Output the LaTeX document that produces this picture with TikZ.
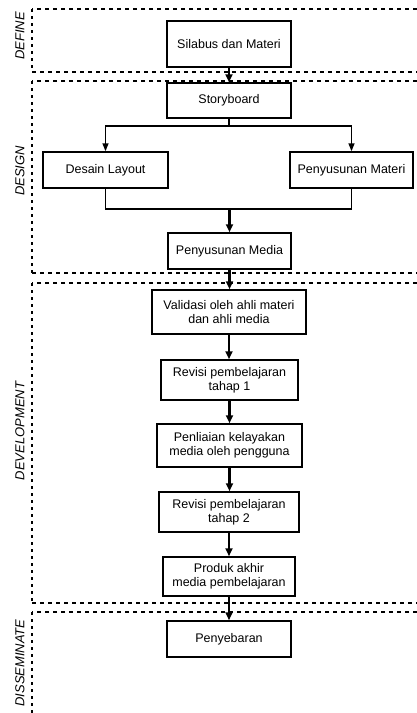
\documentclass[tikz,border=0pt]{standalone}
\usepackage{fontspec}
\setmainfont{Liberation Sans}
\usetikzlibrary{arrows.meta}
\begin{document}
\begin{tikzpicture}[x=1pt,y=-1pt,
  box/.style={draw, line width=1.5pt, align=center, inner sep=2pt,
    font=\fontsize{12.5}{14}\selectfont},
  flow/.style={line width=2.6pt, -{Triangle[length=8pt,width=7pt]}},
  branch/.style={line width=1.5pt, -{Triangle[length=8pt,width=6pt]}},
  link/.style={line width=1.5pt},
  hdash/.style={line width=1.6pt, dash pattern=on 4pt off 4pt},
  vdash/.style={line width=1.8pt, dash pattern=on 2.5pt off 4.5pt},
  phase/.style={rotate=90, font=\fontsize{13}{15}\selectfont\itshape}]
\useasboundingbox (0,0) rectangle (417,713);
% phase regions
\draw[hdash] (417,9) -- (32,9);
\draw[vdash] (32,9) -- (32,72);
\draw[hdash] (32,72) -- (417,72);
\draw[hdash] (417,81) -- (32,81);
\draw[vdash] (32,81) -- (32,273);
\draw[hdash] (32,273) -- (417,273);
\draw[hdash] (417,283) -- (32,283);
\draw[vdash] (32,283) -- (32,603);
\draw[hdash] (32,603) -- (417,603);
\draw[hdash] (417,612) -- (32,612);
\draw[vdash] (32,612) -- (32,713);
\node[phase] (lDefine) at (20,36) {DEFINE};
\node[phase] (lDesign) at (20,171) {DESIGN};
\node[phase] (lDev) at (20,431) {DEVELOPMENT};
\node[phase] (lDiss) at (20,663) {DISSEMINATE};
% boxes
\node[box, minimum width=124pt, minimum height=46pt] (silabus) at (229,44) {Silabus dan Materi};
\node[box, minimum width=124pt, minimum height=35pt] (story) at (229,100.5) {Storyboard};
\node[box, minimum width=125pt, minimum height=36pt] (desain) at (105.5,170) {Desain Layout};
\node[box, minimum width=123pt, minimum height=36pt] (penymat) at (351.5,170) {Penyusunan Materi};
\node[box, minimum width=123pt, minimum height=36pt] (penymed) at (229.5,251) {Penyusunan Media};
\node[box, minimum width=154pt, minimum height=44pt] (valid) at (229,312) {Validasi oleh ahli materi\\dan ahli media};
\node[box, minimum width=137pt, minimum height=40pt] (rev1) at (229.5,380) {Revisi pembelajaran\\tahap 1};
\node[box, minimum width=145pt, minimum height=43pt] (nilai) at (229.5,445.5) {Penliaian kelayakan\\media oleh pengguna};
\node[box, minimum width=140pt, minimum height=40pt] (rev2) at (229,512) {Revisi pembelajaran\\tahap 2};
\node[box, minimum width=132pt, minimum height=39pt] (produk) at (229,576.5) {Produk akhir\\media pembelajaran};
\node[box, minimum width=124pt, minimum height=36pt] (sebar) at (229,639) {Penyebaran};
% connectors
\draw[flow] (silabus.south) -- (story.north);
\coordinate (split) at (229,126);
\draw[link] (story.south) -- (split);
\draw[branch] (split) -| (desain.north);
\draw[branch] (split) -| (penymat.north);
\coordinate (merge) at (229.5,209);
\draw[link] (desain.south) |- (merge);
\draw[link] (penymat.south) |- (merge);
\draw[flow] (merge) -- (penymed.north);
\draw[flow] (penymed.south) -- (valid.north -| penymed.south);
\draw[flow] (valid.south) -- (rev1.north -| valid.south);
\draw[flow] (rev1.south) -- (nilai.north -| rev1.south);
\draw[flow] (nilai.south) -- (rev2.north -| nilai.south);
\draw[flow] (rev2.south) -- (produk.north);
\draw[flow] (produk.south) -- (sebar.north);
\end{tikzpicture}
\end{document}
